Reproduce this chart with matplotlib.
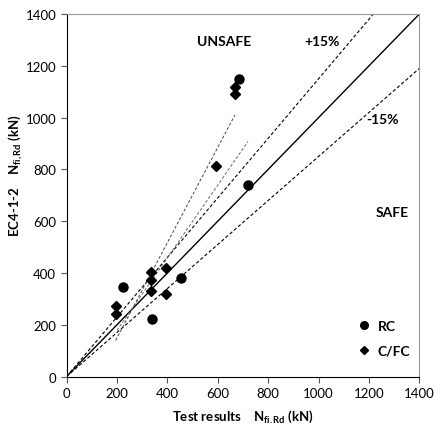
import numpy as np
import matplotlib.pyplot as plt
from matplotlib.lines import Line2D

# RC columns: (test, EC4)
rc_test = [225, 340, 455, 720, 685]
rc_ec4 = [347, 223, 380, 738, 1150]

# C/FC columns
cfc_test = [195, 195, 335, 335, 335, 395, 395, 592, 668, 668]
cfc_ec4 = [272, 243, 403, 372, 330, 420, 320, 812, 1118, 1092]

# reference lines
lim = [0, 1400]
plus15 = 1.15
minus15 = 0.85

# trend lines (grey dashed)
trend_a_x = [195, 668]
trend_a_y = [140, 1010]
trend_b_x = [200, 720]
trend_b_y = [178, 908]

plt.rcParams['font.family'] = ['Lato', 'DejaVu Sans']
plt.rcParams['mathtext.fontset'] = 'custom'
plt.rcParams['mathtext.rm'] = 'Lato'
plt.rcParams['mathtext.bf'] = 'Lato:bold'
plt.rcParams['mathtext.it'] = 'Lato:italic'

fig = plt.figure(figsize=(4.35, 4.31), dpi=100)
ax = fig.add_axes([0.153, 0.124, 0.811, 0.841])

xs = np.array(lim, dtype=float)
ax.plot(xs, xs, "k-", lw=1.0)
ax.plot(xs, plus15 * xs, color="k", ls=(0, (3, 2)), lw=0.8)
ax.plot(xs, minus15 * xs, color="k", ls=(0, (3, 2)), lw=0.8)
ax.plot(trend_a_x, trend_a_y, color="#444444", ls=(0, (3, 2)), lw=0.7)
ax.plot(trend_b_x, trend_b_y, color="#666666", ls=(0, (3, 2)), lw=0.7)

ax.plot(rc_test, rc_ec4, "ko", ms=6.5, ls="none")
ax.plot(cfc_test, cfc_ec4, "kD", ms=5, ls="none")

ax.set_xlim(lim)
ax.set_ylim(lim)
ax.set_xticks(np.arange(0, 1401, 200))
ax.set_yticks(np.arange(0, 1401, 200))
ax.tick_params(labelsize=9.5, length=4, direction="out", color="#555555")

for s in ["top", "right"]:
    ax.spines[s].set_color("#999999")
for s in ["left", "bottom"]:
    ax.spines[s].set_color("black")

ax.text(624, 1297, "UNSAFE", fontsize=10, fontweight="bold", ha="center", va="center")
ax.text(1013, 1297, "+15%", fontsize=10, fontweight="bold", ha="center", va="center")
ax.text(1253, 996, "-15%", fontsize=10, fontweight="bold", ha="center", va="center")
ax.text(1292, 635, "SAFE", fontsize=10, fontweight="bold", ha="center", va="center")

handles = [
    Line2D([], [], color="k", marker="o", ls="none", ms=5.5),
    Line2D([], [], color="k", marker="D", ls="none", ms=4),
]
ax.legend(handles, ["RC", "C/FC"], loc="lower right", frameon=False,
          handletextpad=0.0, labelspacing=0.9, prop={"weight": "bold", "size": 10},
          bbox_to_anchor=(1.01, 0.02))

ax.set_xlabel(r"Test results    $\mathbf{N_{fi.Rd}}$ (kN)", fontsize=9.5, fontweight="bold", labelpad=6)
ax.set_ylabel(r"EC4-1-2    $\mathbf{N_{fi,Rd}}$ (kN)", fontsize=9.5, fontweight="bold")
ax.yaxis.set_label_coords(-0.118, 0.556)

fig.savefig("out.png", dpi=100)
